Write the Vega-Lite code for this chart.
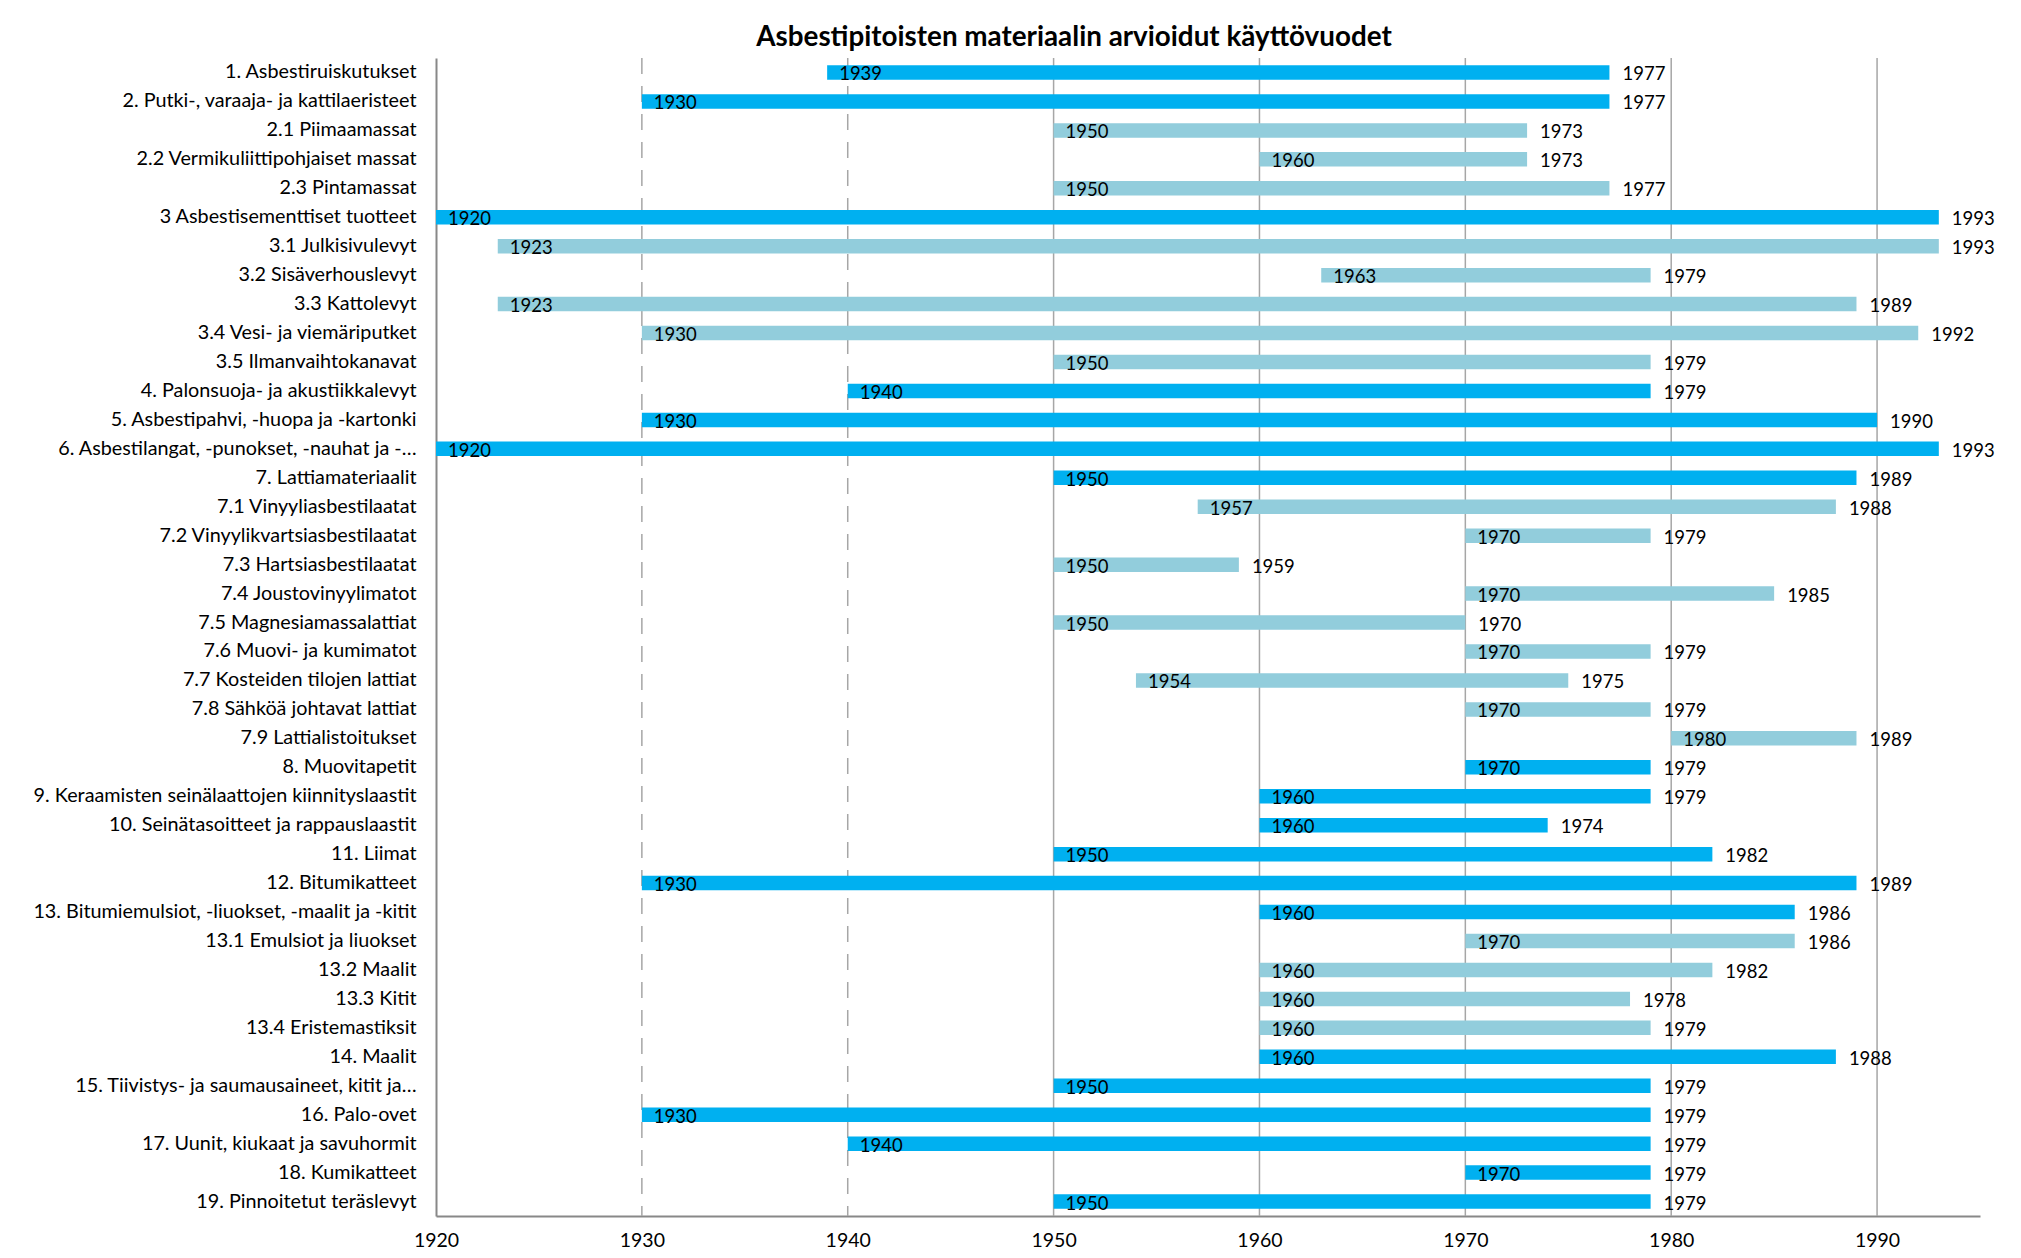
{
  "$schema": "https://vega.github.io/schema/vega-lite/v6.json",
  "autosize": {"type": "none"},
  "width": 1544,
  "height": 1158,
  "padding": {"left": 436, "top": 58, "right": 41, "bottom": 42},
  "background": "white",
  "title": {
    "text": "Asbestipitoisten materiaalin arvioidut käyttövuodet",
    "font": "Lato",
    "fontSize": 27.8,
    "fontWeight": "bold",
    "color": "#000000",
    "anchor": "middle",
    "dx": -134,
    "offset": 5
  },
  "config": {
    "view": {"stroke": null},
    "font": "Lato"
  },
  "datasets": {
    "rows": [
      {"label": "1. Asbestiruiskutukset", "start": 1939, "end": 1977, "type": "main"},
      {"label": "2. Putki-, varaaja- ja kattilaeristeet", "start": 1930, "end": 1977, "type": "main"},
      {"label": "2.1 Piimaamassat", "start": 1950, "end": 1973, "type": "sub"},
      {"label": "2.2 Vermikuliittipohjaiset massat", "start": 1960, "end": 1973, "type": "sub"},
      {"label": "2.3 Pintamassat", "start": 1950, "end": 1977, "type": "sub"},
      {"label": "3 Asbestisementtiset tuotteet", "start": 1920, "end": 1993, "type": "main"},
      {"label": "3.1 Julkisivulevyt", "start": 1923, "end": 1993, "type": "sub"},
      {"label": "3.2 Sisäverhouslevyt", "start": 1963, "end": 1979, "type": "sub"},
      {"label": "3.3 Kattolevyt", "start": 1923, "end": 1989, "type": "sub"},
      {"label": "3.4 Vesi- ja viemäriputket", "start": 1930, "end": 1992, "type": "sub"},
      {"label": "3.5 Ilmanvaihtokanavat", "start": 1950, "end": 1979, "type": "sub"},
      {"label": "4. Palonsuoja- ja akustiikkalevyt", "start": 1940, "end": 1979, "type": "main"},
      {"label": "5. Asbestipahvi, -huopa ja -kartonki", "start": 1930, "end": 1990, "type": "main"},
      {"label": "6. Asbestilangat, -punokset, -nauhat ja -…", "start": 1920, "end": 1993, "type": "main"},
      {"label": "7. Lattiamateriaalit", "start": 1950, "end": 1989, "type": "main"},
      {"label": "7.1 Vinyyliasbestilaatat", "start": 1957, "end": 1988, "type": "sub"},
      {"label": "7.2 Vinyylikvartsiasbestilaatat", "start": 1970, "end": 1979, "type": "sub"},
      {"label": "7.3 Hartsiasbestilaatat", "start": 1950, "end": 1959, "type": "sub"},
      {"label": "7.4 Joustovinyylimatot", "start": 1970, "end": 1985, "type": "sub"},
      {"label": "7.5 Magnesiamassalattiat", "start": 1950, "end": 1970, "type": "sub"},
      {"label": "7.6 Muovi- ja kumimatot", "start": 1970, "end": 1979, "type": "sub"},
      {"label": "7.7 Kosteiden tilojen lattiat", "start": 1954, "end": 1975, "type": "sub"},
      {"label": "7.8 Sähköä johtavat lattiat", "start": 1970, "end": 1979, "type": "sub"},
      {"label": "7.9 Lattialistoitukset", "start": 1980, "end": 1989, "type": "sub"},
      {"label": "8. Muovitapetit", "start": 1970, "end": 1979, "type": "main"},
      {"label": "9. Keraamisten seinälaattojen kiinnityslaastit", "start": 1960, "end": 1979, "type": "main"},
      {"label": "10. Seinätasoitteet ja rappauslaastit", "start": 1960, "end": 1974, "type": "main"},
      {"label": "11. Liimat", "start": 1950, "end": 1982, "type": "main"},
      {"label": "12. Bitumikatteet", "start": 1930, "end": 1989, "type": "main"},
      {"label": "13. Bitumiemulsiot, -liuokset, -maalit ja -kitit", "start": 1960, "end": 1986, "type": "main"},
      {"label": "13.1 Emulsiot ja liuokset", "start": 1970, "end": 1986, "type": "sub"},
      {"label": "13.2 Maalit", "start": 1960, "end": 1982, "type": "sub"},
      {"label": "13.3 Kitit", "start": 1960, "end": 1978, "type": "sub"},
      {"label": "13.4 Eristemastiksit", "start": 1960, "end": 1979, "type": "sub"},
      {"label": "14. Maalit", "start": 1960, "end": 1988, "type": "main"},
      {"label": "15. Tiivistys- ja saumausaineet, kitit ja…", "start": 1950, "end": 1979, "type": "main"},
      {"label": "16. Palo-ovet", "start": 1930, "end": 1979, "type": "main"},
      {"label": "17. Uunit, kiukaat ja savuhormit", "start": 1940, "end": 1979, "type": "main"},
      {"label": "18. Kumikatteet", "start": 1970, "end": 1979, "type": "main"},
      {"label": "19. Pinnoitetut teräslevyt", "start": 1950, "end": 1979, "type": "main"}
    ],
    "dashedGrid": [{"year": 1930}, {"year": 1940}],
    "solidGrid": [{"year": 1950}, {"year": 1960}, {"year": 1970}, {"year": 1980}, {"year": 1990}]
  },
  "layer": [
    {
      "data": {"name": "dashedGrid"},
      "mark": {"type": "rule", "color": "#a6a6a6", "strokeWidth": 1.5, "strokeDash": [16, 12]},
      "encoding": {
        "x": {"field": "year", "type": "quantitative", "scale": {"domain": [1920, 1995], "nice": false, "zero": false}}
      }
    },
    {
      "data": {"name": "solidGrid"},
      "mark": {"type": "rule", "color": "#a6a6a6", "strokeWidth": 1.5},
      "encoding": {
        "x": {"field": "year", "type": "quantitative"}
      }
    },
    {
      "data": {"name": "rows"},
      "mark": {"type": "bar", "size": 14.5},
      "encoding": {
        "y": {
          "field": "label", "type": "nominal", "sort": null,
          "scale": {"paddingInner": 0, "paddingOuter": 0},
          "axis": {
            "title": null, "ticks": false, "tickSize": 0, "labelPadding": 20,
            "labelFont": "Lato", "labelFontSize": 19.8, "labelColor": "#000000",
            "labelLimit": 500, "domainColor": "#888888", "domainWidth": 2, "grid": false
          }
        },
        "x": {
          "field": "start", "type": "quantitative",
          "scale": {"domain": [1920, 1995], "nice": false, "zero": false},
          "axis": {
            "title": null, "values": [1920, 1930, 1940, 1950, 1960, 1970, 1980, 1990],
            "format": "d", "ticks": false, "tickSize": 0, "labelPadding": 15,
            "labelFlush": false,
            "labelFont": "Lato", "labelFontSize": 19.5, "labelColor": "#000000",
            "domainColor": "#888888", "domainWidth": 2, "grid": false
          }
        },
        "x2": {"field": "end"},
        "color": {
          "field": "type", "type": "nominal",
          "scale": {"domain": ["main", "sub"], "range": ["#00B0F0", "#92CDDC"]},
          "legend": null
        }
      }
    },
    {
      "data": {"name": "rows"},
      "mark": {"type": "text", "align": "left", "baseline": "middle", "dx": 12, "dy": 2, "font": "Lato", "fontSize": 18.5, "color": "#000000"},
      "encoding": {
        "y": {"field": "label", "type": "nominal", "sort": null},
        "x": {"field": "start", "type": "quantitative"},
        "text": {"field": "start", "type": "quantitative", "format": "d"}
      }
    },
    {
      "data": {"name": "rows"},
      "mark": {"type": "text", "align": "left", "baseline": "middle", "dx": 13, "dy": 2, "font": "Lato", "fontSize": 18.5, "color": "#000000"},
      "encoding": {
        "y": {"field": "label", "type": "nominal", "sort": null},
        "x": {"field": "end", "type": "quantitative"},
        "text": {"field": "end", "type": "quantitative", "format": "d"}
      }
    }
  ]
}
